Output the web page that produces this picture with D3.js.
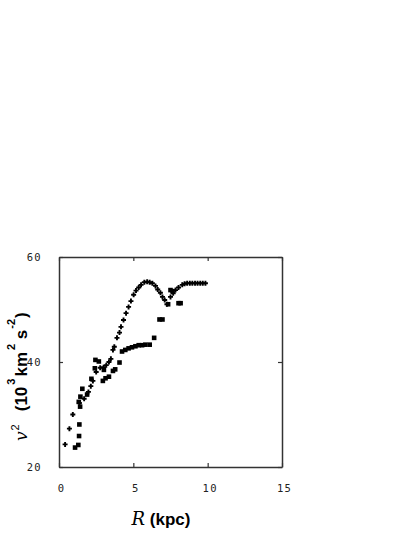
<!DOCTYPE html>
<html>
<head>
<meta charset="utf-8">
<script src="https://cdn.jsdelivr.net/npm/d3@7/dist/d3.min.js"></script>
<style>
body { margin: 0; background: white; }
</style>
</head>
<body>
<div id="chart"></div>
<script>
// plus series (R in kpc, v^2 in 10^3 km^2 s^-2)
var plusR = [0.41,0.70,0.93,1.37,1.69,1.98,2.14,2.28,2.50,2.77,3.00,3.18,3.36,3.49,3.63,3.72,3.90,4.07,4.17,4.34,4.51,4.68,4.84,5.02,5.18,5.36,5.52,5.74,5.93,6.10,6.28,6.49,6.64,6.82,6.96,7.11,7.26,7.50,7.68,7.84,8.04,8.29,8.45,8.62,8.80,8.97,9.15,9.32,9.50,9.67,9.85];
var plusV = [24.3,27.3,30.0,32.2,33.0,34.3,35.4,36.4,38.1,38.9,39.0,39.4,40.0,40.6,42.3,42.9,44.6,45.6,46.7,48.0,49.3,50.5,51.6,52.8,53.6,54.2,54.7,55.2,55.3,55.2,55.0,54.5,53.8,53.2,52.4,51.8,51.0,52.4,53.1,53.7,54.2,54.7,54.9,55.0,55.0,55.0,55.0,55.0,55.0,55.0,55.0];

// square series
var sqR = [1.08,1.30,1.35,1.37,1.42,1.33,1.44,1.57,1.89,2.18,2.41,2.45,2.68,2.95,3.13,3.02,3.36,3.63,3.78,4.07,4.24,4.46,4.68,4.91,5.14,5.36,5.59,5.81,6.10,6.40,6.76,6.96,7.34,7.50,7.64,8.04,8.18];
var sqV = [23.7,24.2,25.9,28.1,31.5,32.4,33.4,34.9,33.8,36.8,38.8,40.4,40.1,36.4,36.9,38.5,37.2,38.3,38.6,39.9,42.0,42.3,42.6,42.8,43.0,43.2,43.2,43.3,43.3,44.6,48.1,48.1,51.0,53.7,53.5,51.2,51.2];

var xTicks = [0, 5, 10, 15];
var yTicks = [20, 40, 60];

var svgWidth = 415, svgHeight = 537;

var svg = d3.select('#chart').append('svg')
    .attr('width', svgWidth)
    .attr('height', svgHeight)
    .style('background', 'white');

var x = d3.scaleLinear().domain([0, 15]).range([59, 282]);
var y = d3.scaleLinear().domain([20, 60]).range([467, 257]);

// axes, ticks pointing inward
var bottom = svg.append('g').attr('transform', 'translate(0,' + y(20) + ')')
    .call(d3.axisBottom(x).tickValues(xTicks).tickSizeInner(-4).tickSizeOuter(0).tickPadding(18));
var top = svg.append('g').attr('transform', 'translate(0,' + y(60) + ')')
    .call(d3.axisTop(x).tickValues(xTicks).tickSizeInner(-4).tickSizeOuter(0).tickFormat(''));
var left = svg.append('g').attr('transform', 'translate(' + x(0) + ',0)')
    .call(d3.axisLeft(y).tickValues(yTicks).tickSizeInner(-4).tickSizeOuter(0).tickPadding(17));
var right = svg.append('g').attr('transform', 'translate(' + x(15) + ',0)')
    .call(d3.axisRight(y).tickValues(yTicks).tickSizeInner(-4).tickSizeOuter(0).tickFormat(''));

svg.selectAll('.domain').attr('stroke', '#333').attr('stroke-width', 1.5);
svg.selectAll('.tick line').attr('stroke', '#333').attr('stroke-width', 1.2);
svg.selectAll('.tick text')
    .attr('fill', '#222')
    .style('font-family', 'DejaVu Sans Mono, monospace')
    .style('font-size', '10.5px')
    .style('letter-spacing', '1.3px');
bottom.selectAll('.tick text').attr('dx', 2);

// square markers
svg.append('g').selectAll('rect')
    .data(d3.range(sqR.length))
    .enter().append('rect')
    .attr('x', function(i) { return x(sqR[i]) - 2.3; })
    .attr('y', function(i) { return y(sqV[i]) - 2.3; })
    .attr('width', 4.6).attr('height', 4.6)
    .attr('fill', 'black');

// plus markers
svg.append('g').selectAll('path')
    .data(d3.range(plusR.length))
    .enter().append('path')
    .attr('transform', function(i) { return 'translate(' + x(plusR[i]) + ',' + y(plusV[i]) + ')'; })
    .attr('d', 'M-2.5,0H2.5M0,-2.5V2.5')
    .attr('stroke', 'black')
    .attr('stroke-width', 1.9)
    .attr('fill', 'none');

// x label
var xl = svg.append('text')
    .attr('x', 161).attr('y', 525)
    .attr('text-anchor', 'middle')
    .attr('fill', 'black');
xl.append('tspan').text('R')
    .style('font-family', 'DejaVu Serif, serif').style('font-style', 'italic').style('font-size', '18px');
xl.append('tspan').text(' (kpc)')
    .style('font-family', 'Liberation Sans, Arial, sans-serif').style('font-weight', 'bold').style('font-size', '17px');

// y label
var yl = svg.append('text')
    .attr('transform', 'translate(27,441) rotate(-90)')
    .attr('fill', 'black')
    .style('font-family', 'Liberation Sans, Arial, sans-serif')
    .style('font-size', '17px');
yl.append('tspan').text('v')
    .style('font-family', 'DejaVu Serif, serif').style('font-style', 'italic').style('font-size', '17px');
yl.append('tspan').text('2').attr('dy', -8).attr('dx', 1).style('font-size', '11px');
yl.append('tspan').text('(10').attr('dy', 8).attr('dx', 13).style('font-weight', 'bold');
yl.append('tspan').text('3').attr('dy', -12).attr('dx', 2).style('font-size', '11px').style('font-weight', 'bold');
yl.append('tspan').text('km').attr('dy', 12).attr('dx', 2).style('font-weight', 'bold');
yl.append('tspan').text('2').attr('dy', -12).attr('dx', 2).style('font-size', '11px').style('font-weight', 'bold');
yl.append('tspan').text(' s').attr('dy', 12).style('font-weight', 'bold');
yl.append('tspan').text('-2').attr('dy', -12).attr('dx', 1).style('font-size', '11px').style('font-weight', 'bold');
yl.append('tspan').text(')').attr('dy', 12).attr('dx', 1).style('font-weight', 'bold');
</script>
</body>
</html>
